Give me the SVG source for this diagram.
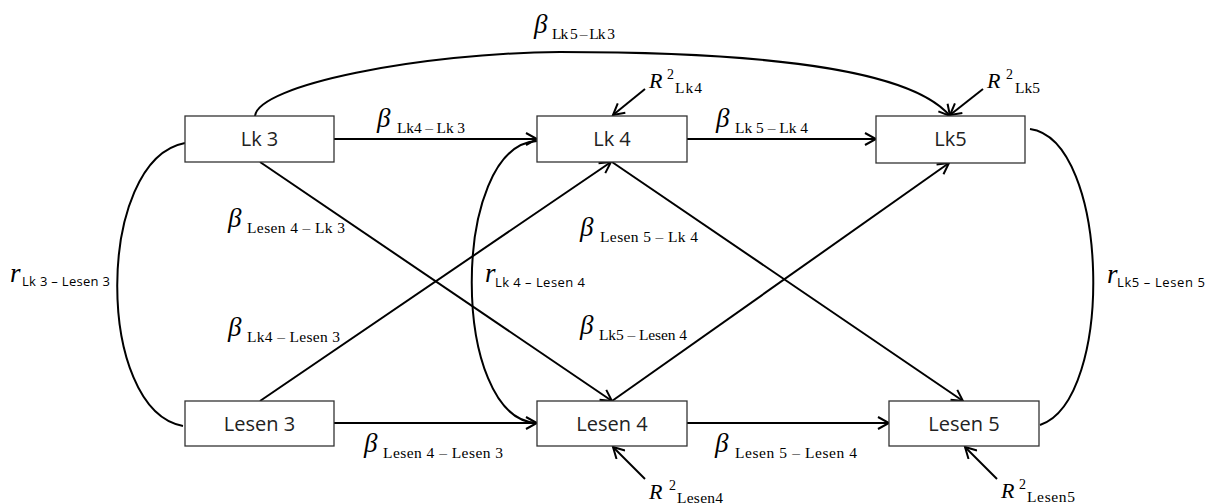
<svg xmlns="http://www.w3.org/2000/svg" width="1207" height="504" viewBox="0 0 1207 504">
<style>
.box{fill:#fff;stroke:#333;stroke-width:1.3}
.nl{font-family:"Open Sans","Noto Sans",sans-serif;font-size:20px;fill:#222;text-anchor:middle}
.c{fill:none;stroke:#000;stroke-width:2}
.a{fill:none;stroke:#000;stroke-width:2;marker-end:url(#ah)}
.g{font-family:"Liberation Serif",serif;font-style:italic;font-size:27px;fill:#000}
.s{font-family:"Liberation Serif",serif;font-style:normal;font-size:15.5px}
.ss{font-family:"Open Sans","Noto Sans",sans-serif;font-style:normal;font-size:13px}
.R{font-family:"Liberation Serif",serif;font-style:italic;font-size:22px;fill:#000}
.sup{font-style:normal;font-size:14px}
</style>
<defs>
<marker id="ah" markerUnits="userSpaceOnUse" markerWidth="14" markerHeight="14" refX="12" refY="7" orient="auto" viewBox="0 0 14 14">
<path d="M1,1 L12,7 L1,13" fill="none" stroke="#000" stroke-width="2"/>
</marker>
</defs>
<g id="connectors">
<line class="a" x1="334" y1="139" x2="537" y2="139"/>
<line class="a" x1="687" y1="139" x2="876" y2="139"/>
<line class="a" x1="334" y1="423" x2="537" y2="423"/>
<line class="a" x1="687" y1="423" x2="889" y2="423"/>
<line class="a" x1="260" y1="162" x2="612" y2="401"/>
<line class="a" x1="260" y1="401" x2="611" y2="162"/>
<line class="a" x1="612" y1="162" x2="963" y2="401"/>
<line class="a" x1="612" y1="401" x2="949" y2="163"/>
<path class="a" d="M255,116 C258,85 420,53 560,52 C720,52 905,62 950,116"/>
<path class="c" d="M185,143 C95,160 95,410 183,426"/>
<path class="c" d="M537,141 C450,145 450,420 537,423"/>
<path class="c" d="M1030,129 C1110,140 1115,400 1040,425"/>
<line class="a" x1="645" y1="89" x2="613" y2="115"/>
<line class="a" x1="983" y1="89" x2="950" y2="115"/>
<line class="a" x1="645" y1="479" x2="613" y2="447"/>
<line class="a" x1="997" y1="479" x2="965" y2="447"/>
</g>
<g id="n-lk3"><rect class="box" x="185" y="116" width="149" height="46"/><text class="nl" x="259.5" y="146">Lk 3</text></g>
<g id="n-lk4"><rect class="box" x="537" y="116" width="150" height="46"/><text class="nl" x="612" y="146">Lk 4</text></g>
<g id="n-lk5"><rect class="box" x="876" y="116" width="149" height="47"/><text class="nl" x="950.5" y="146">Lk5</text></g>
<g id="n-lesen3"><rect class="box" x="185" y="401" width="149" height="45"/><text class="nl" x="259.5" y="431">Lesen 3</text></g>
<g id="n-lesen4"><rect class="box" x="537" y="401" width="150" height="45"/><text class="nl" x="612" y="431">Lesen 4</text></g>
<g id="n-lesen5"><rect class="box" x="889" y="401" width="150" height="45"/><text class="nl" x="964" y="431">Lesen 5</text></g>
<g id="labels">
<text class="g" x="534" y="33">β<tspan class="s" x="552" y="39" textLength="63">Lk 5 – Lk 3</tspan></text>
<text class="g" x="377" y="127">β<tspan class="s" x="397" y="133" textLength="68">Lk4 – Lk 3</tspan></text>
<text class="g" x="716" y="127">β<tspan class="s" x="735" y="133" textLength="73">Lk 5 – Lk 4</tspan></text>
<text class="g" x="228" y="227">β<tspan class="s" x="247" y="233" textLength="98">Lesen 4 – Lk 3</tspan></text>
<text class="g" x="228" y="336">β<tspan class="s" x="247" y="342" textLength="93">Lk4 – Lesen 3</tspan></text>
<text class="g" x="580" y="236">β<tspan class="s" x="600" y="242" textLength="98">Lesen 5 – Lk 4</tspan></text>
<text class="g" x="580" y="334">β<tspan class="s" x="599" y="340" textLength="88">Lk5 – Lesen 4</tspan></text>
<text class="g" x="364" y="452">β<tspan class="s" x="383" y="458" textLength="120">Lesen 4 – Lesen 3</tspan></text>
<text class="g" x="715" y="452">β<tspan class="s" x="735" y="458" textLength="122">Lesen 5 – Lesen 4</tspan></text>
<text class="g" x="10" y="282">r<tspan class="ss" x="22" y="286" textLength="88">Lk 3 – Lesen 3</tspan></text>
<text class="g" x="485" y="282">r<tspan class="ss" x="495" y="287" textLength="90">Lk 4 – Lesen 4</tspan></text>
<text class="g" x="1107" y="283">r<tspan class="ss" x="1117" y="287" textLength="88">Lk5 – Lesen 5</tspan></text>
<text class="R" x="649" y="88">R<tspan class="sup" x="667" y="79">2</tspan><tspan class="s" x="675" y="93" textLength="27">Lk4</tspan></text>
<text class="R" x="987" y="88">R<tspan class="sup" x="1006" y="79">2</tspan><tspan class="s" x="1015" y="93" textLength="25">Lk5</tspan></text>
<text class="R" x="649" y="499">R<tspan class="sup" x="669" y="490">2</tspan><tspan class="s" x="677" y="503" textLength="46">Lesen4</tspan></text>
<text class="R" x="1001" y="498">R<tspan class="sup" x="1019" y="489">2</tspan><tspan class="s" x="1027" y="502" textLength="48">Lesen5</tspan></text>
</g>
</svg>
